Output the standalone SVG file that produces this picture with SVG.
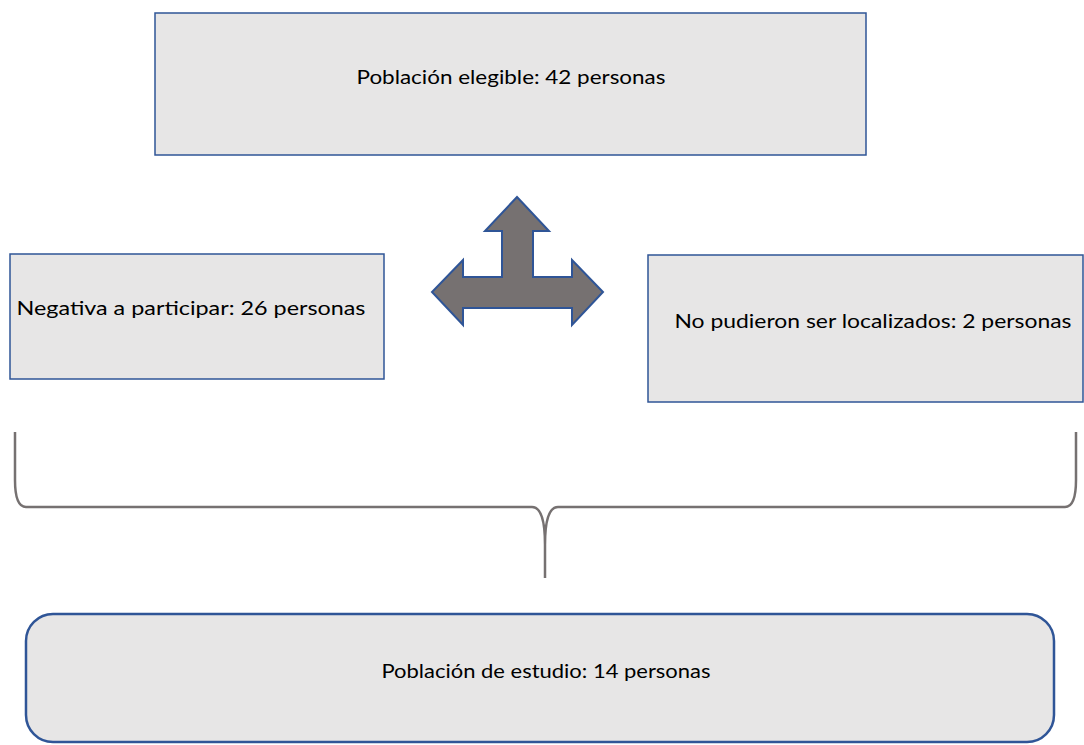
<svg xmlns="http://www.w3.org/2000/svg" width="1084" height="745" viewBox="0 0 1084 745">
<style>
.box{fill:#E7E6E6;stroke:#2F5597;stroke-width:1.5}
.rbox{fill:#E7E6E6;stroke:#2F5597;stroke-width:2.5}
.t{font-family:Lato,"Liberation Sans",sans-serif;font-size:18.5px;fill:#000;text-anchor:middle}
.brace{fill:none;stroke:#767171;stroke-width:2.5}
</style>
<rect width="1084" height="745" fill="#fff"/>
<g id="eligible">
<rect class="box" x="155" y="13" width="711" height="142"/>
<text class="t" x="511" y="84" textLength="309" lengthAdjust="spacingAndGlyphs">Población elegible: 42 personas</text>
</g>
<g id="negativa">
<rect class="box" x="10" y="254" width="374" height="125"/>
<text class="t" x="191" y="315" textLength="349" lengthAdjust="spacingAndGlyphs">Negativa a participar: 26 personas</text>
</g>
<g id="nolocalizados">
<rect class="box" x="648" y="255" width="435" height="147"/>
<text class="t" x="873" y="328" textLength="397" lengthAdjust="spacingAndGlyphs">No pudieron ser localizados: 2 personas</text>
</g>
<g id="estudio">
<rect class="rbox" x="26" y="614" width="1028" height="128" rx="27" ry="27"/>
<text class="t" x="546" y="678" textLength="329" lengthAdjust="spacingAndGlyphs">Población de estudio: 14 personas</text>
</g>
<g id="connectors">
<polygon fill="#767171" stroke="#2F5597" stroke-width="2" stroke-linejoin="miter" points="517,197 549,231 533,231 533,277 572,277 572,260 603,292 572,325 572,308 463,308 463,325 432,292 463,260 463,277 502,277 502,231 485,231"/>
<path class="brace" d="M15,432 L15,480 Q15,507 26,507 L532,507 Q545,507 545,545 L545,578 M545,545 Q545,507 558,507 L1065,507 Q1076,507 1076,480 L1076,432"/>
</g>
</svg>
